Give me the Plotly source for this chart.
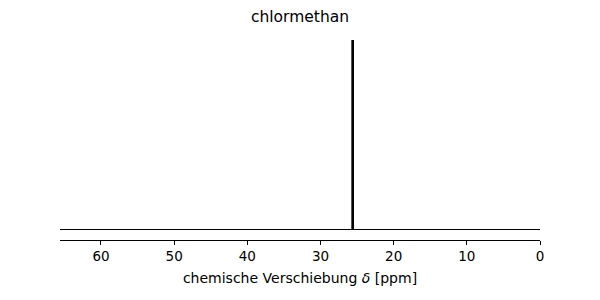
import plotly.graph_objects as go

title = "chlormethan"
peak_shifts = [25.6]
peak_intensities = [1.0]
x_limits = [65.6, 0]
tick_vals = [60, 50, 40, 30, 20, 10, 0]

fig = go.Figure()
for s, h in zip(peak_shifts, peak_intensities):
    fig.add_trace(go.Scatter(x=[s, s], y=[0, h], mode="lines",
                             line=dict(color="black", width=2.7),
                             showlegend=False, hoverinfo="skip"))

fig.add_shape(type="line", xref="paper", yref="y", x0=0, x1=1, y0=0, y1=0,
              line=dict(color="black", width=1), layer="below")

font = "DejaVu Sans, sans-serif"
fig.update_layout(
    width=600, height=300,
    margin=dict(l=60, r=60, t=40, b=60),
    plot_bgcolor="white", paper_bgcolor="white",
    title=dict(text=title, x=0.5, xanchor="center", y=1 - 17 / 300, yanchor="middle",
               font=dict(family=font, size=15.5, color="black")),
    font=dict(family=font, size=13, color="black"),
    xaxis=dict(range=x_limits, tickvals=tick_vals, ticks="outside", ticklen=4,
               tickwidth=1, tickcolor="black", showline=True, linecolor="black",
               linewidth=1, showgrid=False, zeroline=False, anchor="free", position=0,
               tickfont=dict(size=13.5),
               title=dict(text="chemische Verschiebung <i>δ</i> [ppm]", standoff=9,
                          font=dict(size=14))),
    yaxis=dict(range=[-0.0027, max(peak_intensities)], domain=[0.05, 1], visible=False,
               showgrid=False, zeroline=False),
)
fig.write_html("out.html")
